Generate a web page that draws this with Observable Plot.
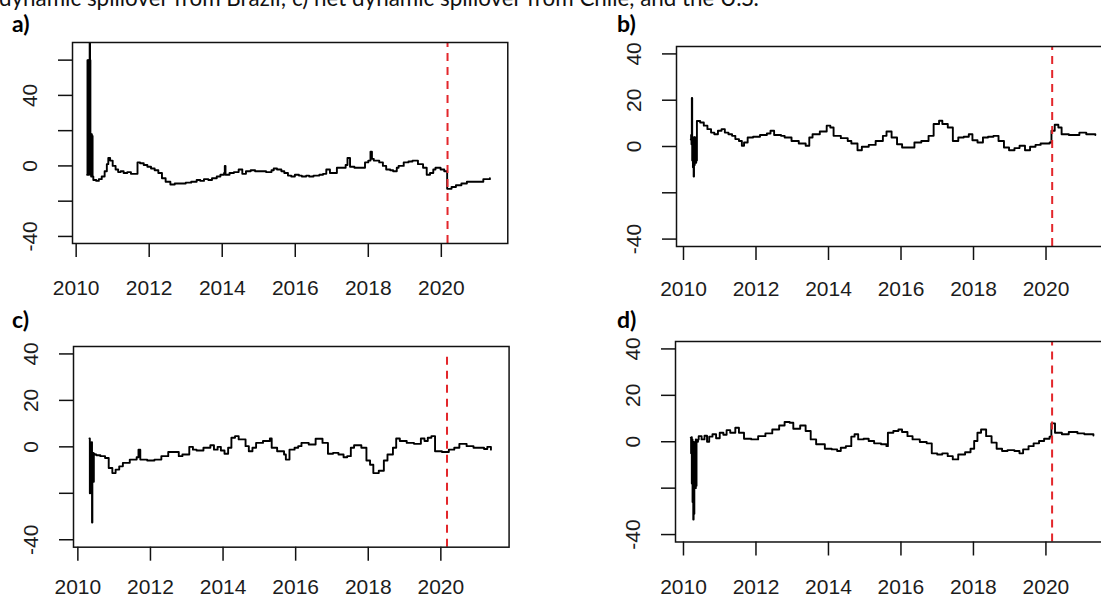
<!DOCTYPE html>
<html>
<head>
<meta charset="utf-8">
<script src="https://cdn.jsdelivr.net/npm/d3@7"></script>
<script src="https://cdn.jsdelivr.net/npm/@observablehq/plot@0.6"></script>
<style>
  html, body { margin: 0; padding: 0; background: #fff; }
  #page { position: relative; width: 1101px; height: 597px; overflow: hidden; background: #fff; }
  #overlay { position: absolute; left: 0; top: 0; pointer-events: none; }
</style>
</head>
<body>
<div id="page"></div>
<script>
// ---------------- data ----------------
const captionText = "dynamic spillover from Brazil; c) net dynamic spillover from Chile, and the U.S.";
const panelLetters = ["a)", "b)", "c)", "d)"];
const xTicks = [2010, 2012, 2014, 2016, 2018, 2020];
const aYTicks = [60, 40, 20, 0, -20, -40];
const aYLabels = [40, 0, -40];
const bcdYTicks = [40, 20, 0, -20, -40];
const bcdYLabels = [40, 20, 0, -40];
const covidDate = 2020.17;

const aDates = [2010.30,2010.31,2010.32,2010.33,2010.34,2010.35,2010.36,2010.37,2010.38,2010.39,2010.40,2010.41,2010.42,2010.43,2010.44,2010.45,
  2010.47,2010.55,2010.62,2010.70,2010.78,2010.84,2010.88,2010.93,2011.00,2011.08,2011.15,2011.22,2011.30,2011.40,2011.50,2011.62,
  2011.68,2011.75,2011.85,2011.95,2012.05,2012.15,2012.25,2012.35,2012.45,2012.58,2012.70,2012.85,2013.00,2013.15,2013.30,2013.40,
  2013.50,2013.62,2013.72,2013.85,2013.95,2014.05,2014.07,2014.09,2014.20,2014.32,2014.45,2014.55,2014.65,2014.78,2014.90,2015.05,
  2015.20,2015.35,2015.41,2015.50,2015.62,2015.70,2015.80,2015.89,2015.99,2016.10,2016.18,2016.30,2016.38,2016.50,2016.66,2016.76,
  2016.85,2016.95,2017.05,2017.14,2017.30,2017.38,2017.43,2017.50,2017.62,2017.80,2017.91,2018.00,2018.06,2018.10,2018.15,2018.30,
  2018.40,2018.49,2018.60,2018.68,2018.78,2018.83,2018.97,2019.10,2019.21,2019.36,2019.50,2019.60,2019.69,2019.78,2019.84,2019.98,
  2020.08,2020.15,2020.16,2020.28,2020.40,2020.55,2020.70,2020.90,2021.05,2021.15,2021.33];
const aValues = [-5,60,-4,60,-5,59,-3,75,60,-5,18,-6,18,-5,17,-6,
  -8,-8.5,-7.5,-6,-3,1,4.5,3,0,-2,-3.5,-3,-4,-3.5,-4.5,-4.5,
  2,1.5,0.5,-0.5,-1.5,-2.5,-4,-7,-9,-10.5,-10,-10,-9.5,-9,-8,-8.5,
  -7.5,-8,-7,-6,-5,-4,0,-5,-4,-3.5,-2,-4.5,-3,-2.5,-3,-3,
  -3.5,-2.5,-1.5,-2,-3,-4,-5.5,-6,-5,-5.5,-6,-5.5,-6,-5.5,-5,-4.5,
  -2,-4,-4,-1,-1,0.5,4.5,-0.5,-1,-1,2,3,8,4,3,2,
  0,-2,-2.5,-3,-1,0,2,2.5,3,1,-1,-5,-4,-2,-1,-2,
  -3,-3,-13,-12,-11,-10,-9,-9,-9,-7.5,-7];

const bDates = [2010.20,2010.21,2010.22,2010.23,2010.24,2010.25,2010.26,2010.27,2010.28,2010.29,2010.30,2010.31,2010.32,2010.33,2010.34,2010.35,2010.36,
  2010.37,2010.46,2010.56,2010.66,2010.76,2010.85,2010.95,2011.05,2011.14,2011.24,2011.34,2011.43,2011.53,2011.61,2011.67,2011.77,
  2011.92,2012.11,2012.30,2012.40,2012.50,2012.69,2012.79,2012.98,2013.18,2013.37,2013.47,2013.56,2013.76,2013.95,2014.05,2014.14,
  2014.34,2014.53,2014.63,2014.80,2014.92,2015.11,2015.30,2015.50,2015.60,2015.74,2015.89,2016.03,2016.18,2016.37,2016.56,2016.76,
  2016.90,2017.05,2017.14,2017.29,2017.43,2017.58,2017.73,2017.87,2017.97,2018.11,2018.26,2018.40,2018.55,2018.69,2018.84,2018.98,
  2019.13,2019.27,2019.42,2019.56,2019.71,2019.85,2020.10,2020.15,2020.24,2020.34,2020.43,2020.63,2020.92,2021.11,2021.36];
const bValues = [3,5,1,21,-6,4,-9,3,-13,4,-8,4,-7,3,-7,2,-6,
  11,10.4,9,7.5,6,5.3,6.8,7.5,6,5.3,4.6,3.2,2.4,0.3,1.7,3.9,
  4.2,5,5.6,6.8,5,4.6,3.9,2.4,1.3,0.3,3.9,5.3,6.5,9,8.2,4.6,
  3.6,2.4,1.3,-1.6,-0.1,0.7,2.4,4.6,6.5,3.9,1,-0.4,-0.4,1.7,2.4,4.6,
  9.7,11.1,9.7,8.2,2.4,3.9,4.2,5.3,2.7,1.7,3.9,4.2,4.6,2.4,-0.4,-1.6,
  -0.7,0.3,-1.6,-0.1,0.7,1.3,1.7,6.8,9.4,8.2,5.3,5,6,5.3,5];

const cDates = [2010.32,2010.33,2010.34,2010.35,2010.36,2010.37,2010.38,2010.39,2010.40,2010.41,2010.42,2010.43,2010.44,2010.46,2010.51,2010.62,
  2010.75,2010.85,2010.95,2011.04,2011.14,2011.24,2011.43,2011.62,2011.67,2011.72,2011.91,2012.11,2012.30,2012.49,2012.69,2012.78,
  2012.88,2013.07,2013.17,2013.27,2013.46,2013.65,2013.75,2013.85,2013.94,2014.04,2014.14,2014.23,2014.33,2014.43,2014.62,2014.71,
  2014.81,2014.91,2015.10,2015.29,2015.34,2015.49,2015.68,2015.73,2015.83,2015.97,2016.07,2016.16,2016.36,2016.55,2016.74,2016.89,
  2017.03,2017.18,2017.32,2017.42,2017.52,2017.61,2017.81,2017.95,2018.05,2018.14,2018.29,2018.43,2018.53,2018.68,2018.77,2018.87,
  2019.06,2019.26,2019.45,2019.55,2019.64,2019.74,2019.84,2020.03,2020.22,2020.37,2020.51,2020.71,2020.90,2021.19,2021.28,2021.38];
const cValues = [3.6,-20,2,-18,1,-12,2,-32.6,-5,-14,-2.6,-15,-3,-3.3,-3.6,-4,
  -4.8,-9.1,-11.3,-9.8,-8.4,-6.9,-5.5,-4.5,-1.2,-5.5,-5.9,-5.5,-4,-2.2,-2.2,-4,
  -3.3,0,-1.2,-1.6,-0.4,0.7,-1.2,0,-1.6,-3,-0.4,3.9,4.6,3.2,0.3,-1.9,
  -0.4,1.7,2.5,3.6,-0.4,-1.9,-3.3,-5.5,-1.2,-0.4,0.3,1.7,1,3.5,1.7,-3,
  -2.6,-3.3,-4.5,-4,-0.4,0.7,-0.4,-5.9,-7.7,-11.3,-10.3,-5.9,-3.3,-0.4,3.6,2.5,
  1.7,1.3,3.6,2.5,3.9,4.6,-1.9,-2.2,-1.2,-0.4,1.3,0.3,-0.4,-0.9,0,-1.2];

const dDates = [2010.20,2010.21,2010.22,2010.23,2010.24,2010.25,2010.26,2010.27,2010.28,2010.29,2010.30,2010.31,2010.32,2010.33,2010.34,2010.35,2010.36,
  2010.40,2010.42,2010.50,2010.58,2010.65,2010.71,2010.80,2010.90,2011.00,2011.10,2011.19,2011.29,2011.43,2011.53,2011.67,2011.87,
  2012.06,2012.26,2012.45,2012.64,2012.79,2012.93,2013.03,2013.22,2013.37,2013.51,2013.66,2013.90,2014.09,2014.24,2014.34,2014.48,
  2014.63,2014.72,2014.82,2014.97,2015.11,2015.26,2015.45,2015.60,2015.64,2015.79,2015.93,2016.03,2016.18,2016.32,2016.52,2016.71,
  2016.81,2016.85,2017.00,2017.14,2017.29,2017.43,2017.58,2017.77,2017.92,2018.02,2018.11,2018.21,2018.35,2018.50,2018.64,2018.79,
  2018.94,2019.13,2019.27,2019.37,2019.52,2019.66,2019.81,2019.95,2020.10,2020.15,2020.25,2020.44,2020.63,2020.87,2021.06,2021.31];
const dValues = [1.7,-5,2,-18,1,-26,0,-33.5,-2,-31,-1,-19,0,-20,1,-19,0,
  1,2.4,1,2.6,0,2.2,3.2,1.5,3.9,3,5,3.9,6,3.9,1.3,1,
  2.4,3.6,5.3,7,8.5,8.2,5.6,7,4.6,1,-1.1,-3,-3.3,-4,-2.6,-1.9,
  2.2,3.2,1,1.3,0.3,-0.7,-1.1,-1.9,3.9,4.6,5.3,4.2,2.4,1,-0.1,-0.7,
  -0.7,-5,-5.5,-5,-6.2,-7.6,-5.5,-4.5,-3,0.3,3.9,5.3,2.4,-0.4,-3,-4,
  -3.6,-4,-5,-3.3,-1.9,-0.7,0.3,1.3,2.2,7.9,3.9,3.2,4.2,3.6,3.2,2.7];

// ---------------- layout ----------------
const ML = 70, MT = 10, MR = 10, MB = 60;
const FONT = "Liberation Sans";
const TICK_FS = 21;

const panels = [
  {dates: aDates, values: aValues, left: 72, top: 41.7, fw: 435.3, fh: 201, pad: 22.4,
   xDomain: [2009.90, 2021.82], yDomain: [-44, 70], yTicks: aYTicks, yLabels: aYLabels, ruleTop: 70},
  {dates: bDates, values: bValues, left: 676, top: 45.7, fw: 435.5, fh: 200, pad: 21.0,
   xDomain: [2009.807, 2021.82], yDomain: [-43.2, 43.2], yTicks: bcdYTicks, yLabels: bcdYLabels, ruleTop: 43.2},
  {dates: cDates, values: cValues, left: 72.7, top: 346, fw: 435.6, fh: 200.7, pad: 18.2,
   xDomain: [2009.88, 2021.88], yDomain: [-43.2, 43.2], yTicks: bcdYTicks, yLabels: bcdYLabels, ruleTop: 40},
  {dates: dDates, values: dValues, left: 675, top: 340.5, fw: 435.7, fh: 200.5, pad: 22.9,
   xDomain: [2009.78, 2021.80], yDomain: [-43.2, 43.2], yTicks: bcdYTicks, yLabels: bcdYLabels, ruleTop: 43.2}
];

const page = document.getElementById("page");

panels.forEach(p => {
  const rows = p.dates.map((t, i) => ({t, v: p.values[i]}));
  const svg = Plot.plot({
    width: ML + p.fw + MR,
    height: MT + p.fh + MB,
    marginLeft: ML, marginTop: MT, marginRight: MR, marginBottom: MB,
    style: "font-family: 'Liberation Sans', Arial, sans-serif; font-size: 21px; color: #1c1c1c; background: transparent; overflow: visible;",
    x: {domain: p.xDomain, axis: null},
    y: {domain: p.yDomain, axis: null},
    marks: [
      Plot.line(rows, {x: "t", y: "v", curve: "step-after", stroke: "#000", strokeWidth: 1.9, clip: true}),
      Plot.ruleX([covidDate], {x: d => d, y1: () => p.yDomain[0], y2: () => p.ruleTop,
        stroke: "#e3262b", strokeWidth: 2, strokeDasharray: "8,6"}),
      Plot.axisX(xTicks, {label: null, tickSize: 14, tickPadding: p.pad, tickFormat: d => String(d),
        fontSize: TICK_FS, fontFamily: FONT, stroke: "#111", strokeWidth: 1.5, fill: "#1c1c1c"}),
      Plot.axisY(p.yTicks, {label: null, tickSize: 14, tickFormat: () => "", stroke: "#111", strokeWidth: 1.5}),
      Plot.text(p.yLabels, {y: d => d, text: d => String(d), frameAnchor: "left", dx: -42,
        rotate: -90, textAnchor: "middle", lineAnchor: "middle", fontSize: TICK_FS, fontFamily: FONT, fill: "#1c1c1c"}),
      Plot.frame({stroke: "#111", strokeWidth: 1.5})
    ]
  });
  svg.style.position = "absolute";
  svg.style.left = (p.left - ML) + "px";
  svg.style.top = (p.top - MT) + "px";
  page.appendChild(svg);
});

// overlay text: caption line (cut off at top) and panel letters
const ns = "http://www.w3.org/2000/svg";
const ov = document.createElementNS(ns, "svg");
ov.setAttribute("id", "overlay");
ov.setAttribute("width", 1101);
ov.setAttribute("height", 597);
const cap = document.createElementNS(ns, "text");
cap.setAttribute("x", -1);
cap.setAttribute("y", 5.5);
cap.setAttribute("font-family", "Lato, 'Open Sans', sans-serif");
cap.setAttribute("font-size", 22.4);
cap.setAttribute("fill", "#111");
cap.textContent = captionText;
ov.appendChild(cap);
const letterPos = [[12, 31.7], [617, 31.7], [12, 328.3], [617, 328.3]];
panelLetters.forEach((L, i) => {
  const t = document.createElementNS(ns, "text");
  t.setAttribute("x", letterPos[i][0]);
  t.setAttribute("y", letterPos[i][1]);
  t.setAttribute("font-family", "Lato, 'Open Sans', sans-serif");
  t.setAttribute("font-weight", "bold");
  t.setAttribute("font-size", 23);
  t.setAttribute("fill", "#000");
  t.textContent = L;
  ov.appendChild(t);
});
page.appendChild(ov);
</script>
</body>
</html>
